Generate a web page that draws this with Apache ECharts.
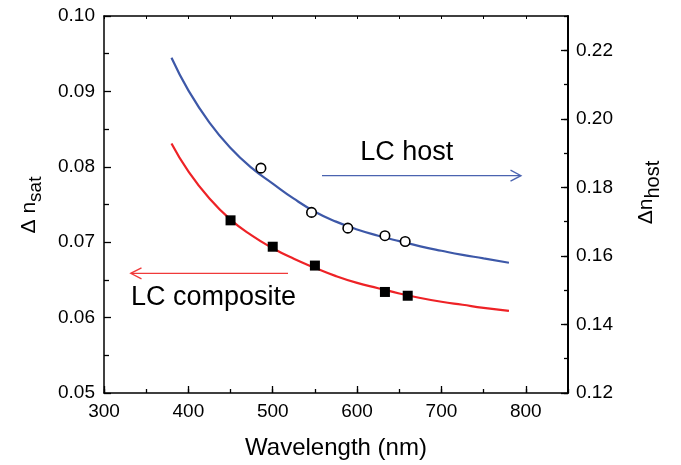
<!DOCTYPE html>
<html>
<head>
<meta charset="utf-8">
<script src="https://cdn.jsdelivr.net/npm/echarts@6/dist/echarts.min.js"></script>
<style>
html,body{margin:0;padding:0;background:#fff;}
#c{width:681px;height:465px;}
</style>
</head>
<body>
<div id="c"></div>
<script>
// Wavelengths (nm) at which the fitted curves were read
var fitWavelengths = [380, 400, 425, 450, 475, 500, 525, 550, 575, 600, 625, 650, 675, 700, 725, 750, 780];
// LC composite fit (left axis, Δn_sat)
var compositeFit = [0.0831, 0.0794, 0.0758, 0.0730, 0.0709, 0.0692, 0.0678, 0.0666, 0.0655, 0.0646, 0.0639, 0.0632, 0.0626, 0.0621, 0.0617, 0.0613, 0.0609];
// LC host fit (right axis, Δn_host)
var hostFit = [0.2178, 0.2083, 0.1989, 0.1915, 0.1857, 0.1811, 0.1767, 0.1729, 0.1700, 0.1677, 0.1659, 0.1643, 0.1628, 0.1615, 0.1603, 0.1593, 0.1580];
// Measured points
var compositeWl = [450, 500, 550, 633, 660];
var compositeVals = [0.0729, 0.0694, 0.0669, 0.0634, 0.0629];
var hostWl = [486, 546, 589, 633, 657];
var hostVals = [0.1856, 0.1727, 0.1681, 0.1659, 0.1642];
// Axis ranges / ticks
var xTicks = [300, 850, 100];
var leftTicks = [0.05, 0.10, 0.01];
var rightTicks = [0.12, 0.23, 0.02];

function zip(a, b) { return a.map(function (v, i) { return [v, b[i]]; }); }

var FONT = 'Liberation Sans, Arial, Helvetica, sans-serif';
var BLACK = '#000';

var chart = echarts.init(document.getElementById('c'), null, {renderer: 'canvas'});
var option = {
  backgroundColor: '#fff',
  animation: false,
  grid: {left: 104, right: 113, top: 16, bottom: 72, containLabel: false},
  xAxis: [
    {
      type: 'value', position: 'bottom', min: xTicks[0], max: xTicks[1], interval: xTicks[2],
      name: 'Wavelength (nm)', nameLocation: 'middle', nameGap: 43,
      nameTextStyle: {fontFamily: FONT, fontSize: 24, color: BLACK},
      axisLine: {show: true, onZero: false, lineStyle: {color: BLACK, width: 1.5}},
      axisTick: {show: true, inside: true, length: 7, lineStyle: {color: BLACK, width: 1.3}},
      axisLabel: {show: true, fontFamily: FONT, fontSize: 19, color: BLACK, margin: 9, showMaxLabel: false},
      splitLine: {show: false}
    },
    {
      type: 'value', position: 'bottom', min: xTicks[0], max: xTicks[1], interval: xTicks[2] / 2,
      axisLine: {show: false, onZero: false},
      axisTick: {show: true, inside: true, length: 4, lineStyle: {color: BLACK, width: 1.3}},
      axisLabel: {show: false}, splitLine: {show: false}
    },
    {
      type: 'value', position: 'top', min: xTicks[0], max: xTicks[1], interval: xTicks[2] / 2,
      axisLine: {show: true, onZero: false, lineStyle: {color: BLACK, width: 1.5}},
      axisTick: {show: true, inside: true, length: 3, lineStyle: {color: BLACK, width: 1}},
      axisLabel: {show: false}, splitLine: {show: false}
    }
  ],
  yAxis: [
    {
      type: 'value', position: 'left', min: leftTicks[0], max: leftTicks[1], interval: leftTicks[2],
      axisLine: {show: true, onZero: false, lineStyle: {color: BLACK, width: 1.5}},
      axisTick: {show: true, inside: true, length: 7, lineStyle: {color: BLACK, width: 1.3}},
      minorTick: {show: true, splitNumber: 2, length: 5, lineStyle: {color: BLACK, width: 1.3}},
      axisLabel: {fontFamily: FONT, fontSize: 19, color: BLACK, margin: 9,
        formatter: function (v) { return v.toFixed(2); }},
      splitLine: {show: false}
    },
    {
      type: 'value', position: 'right', min: rightTicks[0], max: rightTicks[1], interval: rightTicks[2],
      axisLine: {show: true, onZero: false, lineStyle: {color: BLACK, width: 2}},
      axisTick: {show: true, inside: true, length: 7, lineStyle: {color: BLACK, width: 1.3}},
      axisLabel: {fontFamily: FONT, fontSize: 19, color: BLACK, margin: 8, showMaxLabel: false,
        formatter: function (v) { return v.toFixed(2); }},
      splitLine: {show: false}
    },
    {
      type: 'value', position: 'right', min: rightTicks[0], max: rightTicks[1], interval: rightTicks[2] / 2,
      axisLine: {show: false, onZero: false},
      axisTick: {show: true, inside: true, length: 4, lineStyle: {color: BLACK, width: 1.3}},
      axisLabel: {show: false}, splitLine: {show: false}
    }
  ],
  series: [
    {
      name: 'LC composite fit', type: 'line', xAxisIndex: 0, yAxisIndex: 0,
      data: zip(fitWavelengths, compositeFit), smooth: 0.5, showSymbol: false,
      lineStyle: {color: '#ee2226', width: 2.2}, z: 2
    },
    {
      name: 'LC host fit', type: 'line', xAxisIndex: 0, yAxisIndex: 1,
      data: zip(fitWavelengths, hostFit), smooth: 0.5, showSymbol: false,
      lineStyle: {color: '#3d58a8', width: 2.2}, z: 2
    },
    {
      name: 'LC composite', type: 'scatter', xAxisIndex: 0, yAxisIndex: 0,
      data: zip(compositeWl, compositeVals), symbol: 'rect', symbolSize: 10,
      itemStyle: {color: '#000', opacity: 1}, z: 5
    },
    {
      name: 'LC host', type: 'scatter', xAxisIndex: 0, yAxisIndex: 1,
      data: zip(hostWl, hostVals), symbol: 'circle', symbolSize: 9.5,
      itemStyle: {color: '#fff', borderColor: '#000', borderWidth: 1.6, opacity: 1}, z: 5
    }
  ],
  graphic: [
    // blue arrow -> right axis
    {type: 'line', shape: {x1: 322, y1: 175.7, x2: 520.5, y2: 175.7}, style: {stroke: '#4a63b0', lineWidth: 1.3}},
    {type: 'polyline', shape: {points: [[510.5, 170.2], [521, 175.7], [510.5, 181.2]]}, style: {stroke: '#4a63b0', lineWidth: 1.3, fill: null}},
    {type: 'text', x: 406.7, y: 153, style: {text: 'LC host', font: '27px ' + FONT, fill: '#000', align: 'center', verticalAlign: 'middle'}},
    // red arrow -> left axis
    {type: 'line', shape: {x1: 288, y1: 273.3, x2: 131.2, y2: 273.3}, style: {stroke: '#f03a3a', lineWidth: 1.3}},
    {type: 'polyline', shape: {points: [[141.5, 267.8], [130.7, 273.3], [141.5, 278.8]]}, style: {stroke: '#f03a3a', lineWidth: 1.3, fill: null}},
    {type: 'text', x: 213.5, y: 298, style: {text: 'LC composite', font: '27px ' + FONT, fill: '#000', align: 'center', verticalAlign: 'middle'}},
    // axis names
    {type: 'text', x: 29, y: 205, rotation: Math.PI / 2,
      style: {text: '{a|Δ n}{b|sat}', align: 'center', verticalAlign: 'middle', fill: '#000',
        rich: {a: {fontFamily: FONT, fontSize: 21, fill: '#000'}, b: {fontFamily: FONT, fontSize: 19, fill: '#000', padding: [14, 0, 0, 0]}}}},
    {type: 'text', x: 646, y: 192.5, rotation: Math.PI / 2,
      style: {text: '{a|Δn}{b|host}', align: 'center', verticalAlign: 'middle', fill: '#000',
        rich: {a: {fontFamily: FONT, fontSize: 21, fill: '#000'}, b: {fontFamily: FONT, fontSize: 20, fill: '#000', padding: [14, 0, 0, 0]}}}}
  ]
};
chart.setOption(option);
</script>
</body>
</html>
